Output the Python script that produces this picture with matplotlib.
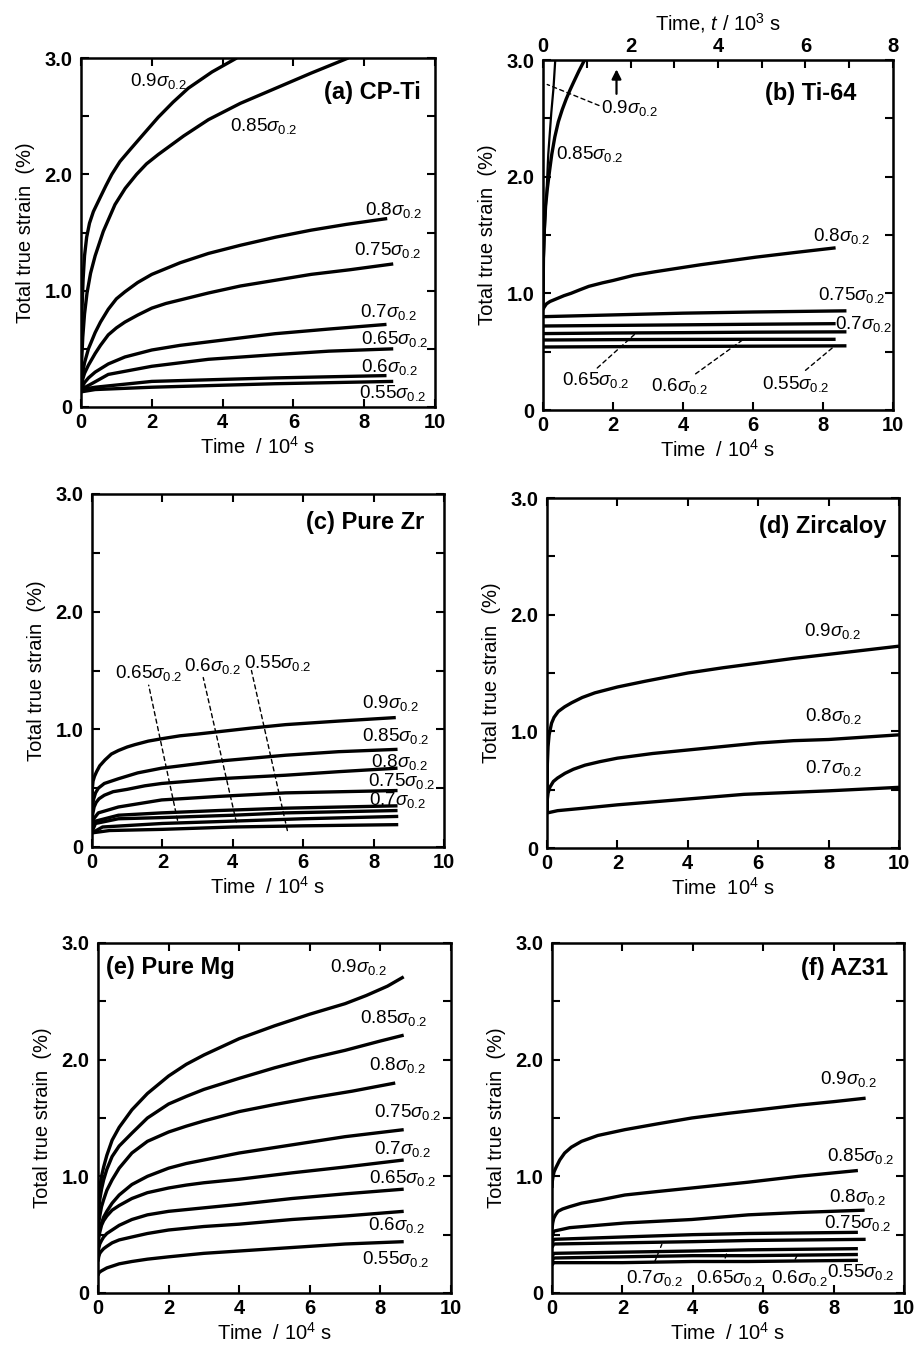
import matplotlib
matplotlib.use('Agg')
import matplotlib.pyplot as plt

plt.rcParams['font.family'] = ['Liberation Sans', 'DejaVu Sans']
plt.rcParams['mathtext.fontset'] = 'custom'
plt.rcParams['mathtext.rm'] = 'Liberation Sans'
plt.rcParams['mathtext.it'] = 'Liberation Sans:italic'
plt.rcParams['mathtext.bf'] = 'Liberation Sans:bold'

# ---- data: time (10^4 s), total true strain (%) ----
# (a) CP-Ti
a_levels = ['0.9', '0.85', '0.8', '0.75', '0.7', '0.65', '0.6', '0.55']
a_times = [
    [0, 0.01, 0.03, 0.06, 0.1, 0.16, 0.24, 0.35, 0.54, 0.7, 0.87, 1.1, 1.38, 1.75, 2.18, 2.6, 3.03, 3.7, 4.4],
    [0, 0.02, 0.05, 0.1, 0.17, 0.27, 0.4, 0.63, 0.96, 1.25, 1.57, 1.85, 2.18, 2.9, 3.6, 4.5, 5.5, 6.5, 7.55],
    [0, 0.02, 0.05, 0.1, 0.21, 0.4, 0.55, 0.77, 1.0, 1.24, 1.6, 2, 2.4, 2.8, 3.6, 4.5, 5.5, 6.5, 7.5, 8.65],
    [0, 0.02, 0.05, 0.1, 0.21, 0.4, 0.55, 0.77, 1.0, 1.24, 1.6, 2, 2.4, 2.8, 3.6, 4.5, 5.5, 6.5, 7.6, 8.82],
    [0, 0.05, 0.1, 0.21, 0.4, 0.77, 1.24, 2, 2.8, 3.6, 5.48, 7, 8.63],
    [0, 0.3, 0.77, 2, 3.6, 5.48, 7, 8.82],
    [0, 0.4, 2, 5.48, 8.63],
    [0, 0.4, 2, 5.48, 8.82],
]
a_strains = [
    [0.16, 0.5, 0.85, 1.1, 1.3, 1.46, 1.58, 1.68, 1.8, 1.9, 2.0, 2.11, 2.21, 2.34, 2.49, 2.62, 2.74, 2.88, 3.0],
    [0.15, 0.4, 0.6, 0.8, 0.98, 1.15, 1.3, 1.51, 1.74, 1.88, 2.0, 2.09, 2.17, 2.33, 2.47, 2.61, 2.74, 2.87, 3.0],
    [0.15, 0.22, 0.3, 0.38, 0.5, 0.64, 0.73, 0.84, 0.93, 0.99, 1.07, 1.14, 1.19, 1.24, 1.32, 1.39, 1.46, 1.52, 1.57, 1.62],
    [0.15, 0.19, 0.24, 0.29, 0.36, 0.46, 0.53, 0.62, 0.68, 0.73, 0.79, 0.85, 0.89, 0.92, 0.98, 1.04, 1.09, 1.14, 1.18, 1.23],
    [0.15, 0.18, 0.21, 0.25, 0.3, 0.37, 0.43, 0.49, 0.53, 0.56, 0.63, 0.67, 0.71],
    [0.15, 0.2, 0.28, 0.35, 0.41, 0.45, 0.48, 0.5],
    [0.15, 0.17, 0.22, 0.25, 0.27],
    [0.13, 0.15, 0.17, 0.2, 0.22],
]

# (b) Ti-64 ; first two curves use the top axis (10^3 s)
b_levels = ['0.9', '0.85', '0.8', '0.75', '0.7', '0.65', '0.6', '0.55']
b_times = [
    [0, 0.02, 0.05, 0.12, 0.19, 0.24, 0.28],
    [0, 0.01, 0.03, 0.06, 0.1, 0.15, 0.2, 0.27, 0.35, 0.44, 0.53, 0.62, 0.7, 0.82, 0.95],
    [0, 0.03, 0.1, 0.2, 0.36, 0.6, 0.8, 1.05, 1.31, 1.7, 2, 2.6, 3.2, 4.5, 6.08, 7.2, 8.36],
    [0, 2, 4, 6, 8.67],
    [0, 2, 4, 6, 8.36],
    [0, 2, 4, 6, 8.67],
    [0, 2, 4, 6, 8.36],
    [0, 2, 4, 6, 8.67],
]
b_strains = [
    [0.9, 1.3, 1.61, 2.19, 2.55, 2.76, 3.0],
    [0.9, 1.3, 1.55, 1.75, 1.9, 2.05, 2.19, 2.34, 2.47, 2.575, 2.665, 2.745, 2.81, 2.905, 3.0],
    [0.86, 0.88, 0.91, 0.93, 0.95, 0.98, 1.0, 1.03, 1.06, 1.09, 1.11, 1.155, 1.185, 1.245, 1.31, 1.35, 1.39],
    [0.8, 0.815, 0.83, 0.84, 0.85],
    [0.72, 0.725, 0.73, 0.735, 0.74],
    [0.655, 0.66, 0.663, 0.667, 0.67],
    [0.6, 0.603, 0.605, 0.606, 0.606],
    [0.54, 0.543, 0.545, 0.547, 0.55],
]

# (c) Pure Zr
c_levels = ['0.9', '0.85', '0.8', '0.75', '0.7', '0.65', '0.6', '0.55']
c_times = [
    [0, 0.01, 0.03, 0.07, 0.13, 0.22, 0.37, 0.55, 0.75, 1.0, 1.22, 1.6, 1.98, 2.5, 3, 3.6, 4.5, 5.5, 7, 8.63],
    [0, 0.01, 0.04, 0.1, 0.18, 0.35, 0.75, 1.3, 1.98, 3.6, 5.5, 7, 8.68],
    [0, 0.02, 0.06, 0.12, 0.2, 0.35, 0.6, 1.0, 1.5, 1.98, 3.6, 5.5, 7, 8.68],
    [0, 0.05, 0.18, 0.75, 1.98, 3.6, 5.5, 8.68],
    [0, 0.1, 0.75, 1.98, 3.6, 5.5, 8.68],
    [0, 0.1, 0.75, 2, 4, 5.5, 8.68],
    [0, 0.3, 2, 4, 6, 8.7],
    [0, 0.5, 2, 4, 6, 8.7],
]
c_strains = [
    [0.35, 0.5, 0.56, 0.6, 0.64, 0.69, 0.74, 0.79, 0.82, 0.85, 0.87, 0.9, 0.92, 0.945, 0.96, 0.98, 1.01, 1.04, 1.07, 1.1],
    [0.25, 0.33, 0.4, 0.46, 0.5, 0.54, 0.58, 0.63, 0.67, 0.73, 0.78, 0.81, 0.83],
    [0.2, 0.28, 0.34, 0.38, 0.41, 0.44, 0.47, 0.49, 0.52, 0.54, 0.58, 0.61, 0.64, 0.67],
    [0.15, 0.24, 0.29, 0.34, 0.4, 0.43, 0.46, 0.48],
    [0.15, 0.22, 0.27, 0.29, 0.31, 0.33, 0.35],
    [0.13, 0.2, 0.24, 0.25, 0.27, 0.29, 0.31],
    [0.12, 0.17, 0.2, 0.22, 0.24, 0.26],
    [0.12, 0.14, 0.15, 0.17, 0.18, 0.19],
]

# (d) Zircaloy
d_levels = ['0.9', '0.8', '0.7']
d_times = [
    [0, 0.01, 0.03, 0.06, 0.13, 0.2, 0.32, 0.5, 0.7, 1.0, 1.36, 2, 2.8, 4, 5, 6, 7, 8, 9, 10],
    [0, 0.01, 0.03, 0.08, 0.18, 0.3, 0.51, 0.75, 1.08, 1.5, 2, 3, 4, 5, 6, 7, 8, 9, 10],
    [0, 0.3, 1, 2, 4, 5.6, 8, 10],
]
d_strains = [
    [0.3, 0.72, 0.87, 0.97, 1.07, 1.12, 1.17, 1.21, 1.245, 1.29, 1.33, 1.38, 1.43, 1.5, 1.545, 1.585, 1.625, 1.66, 1.695, 1.73],
    [0.3, 0.42, 0.47, 0.52, 0.57, 0.6, 0.64, 0.675, 0.71, 0.74, 0.77, 0.81, 0.84, 0.87, 0.9, 0.92, 0.93, 0.95, 0.97],
    [0.3, 0.32, 0.34, 0.37, 0.42, 0.46, 0.49, 0.52],
]

# (e) Pure Mg
e_levels = ['0.9', '0.85', '0.8', '0.75', '0.7', '0.65', '0.6', '0.55']
e_times = [
    [0, 0.02, 0.05, 0.1, 0.16, 0.25, 0.4, 0.6, 0.96, 1.4, 2, 2.5, 3, 4, 5, 6, 7, 7.6, 8.2, 8.66],
    [0, 0.02, 0.05, 0.1, 0.16, 0.25, 0.4, 0.6, 0.96, 1.4, 2, 2.5, 3, 4, 5, 6, 7, 8, 8.66],
    [0, 0.02, 0.05, 0.1, 0.16, 0.25, 0.4, 0.6, 0.96, 1.4, 2, 2.5, 3, 4, 5, 6, 7.2, 8.42],
    [0, 0.02, 0.05, 0.1, 0.16, 0.25, 0.4, 0.6, 0.96, 1.4, 2, 2.5, 3, 4, 5.5, 7, 8.66],
    [0, 0.02, 0.05, 0.1, 0.16, 0.25, 0.4, 0.6, 0.96, 1.4, 2, 2.5, 3, 4, 5.5, 7, 8.66],
    [0, 0.02, 0.05, 0.1, 0.16, 0.25, 0.4, 0.6, 0.96, 1.4, 2, 2.5, 3, 4, 5.5, 7, 8.66],
    [0, 0.02, 0.05, 0.1, 0.16, 0.25, 0.4, 0.6, 0.96, 1.4, 2, 2.5, 3, 4, 5.5, 7, 8.66],
    [0, 0.02, 0.05, 0.1, 0.16, 0.25, 0.4, 0.6, 0.96, 1.4, 2, 2.5, 3, 4, 5.5, 7, 8.66],
]
e_strains = [
    [0.7, 0.82, 0.9, 1.0, 1.08, 1.18, 1.31, 1.42, 1.57, 1.71, 1.86, 1.96, 2.04, 2.18, 2.29, 2.39, 2.48, 2.55, 2.63, 2.71],
    [0.6, 0.72, 0.8, 0.89, 0.97, 1.06, 1.17, 1.26, 1.37, 1.5, 1.62, 1.685, 1.745, 1.84, 1.93, 2.01, 2.08, 2.16, 2.21],
    [0.5, 0.6, 0.66, 0.74, 0.8, 0.88, 0.97, 1.07, 1.2, 1.3, 1.38, 1.43, 1.475, 1.555, 1.615, 1.67, 1.73, 1.8],
    [0.45, 0.5, 0.55, 0.6, 0.65, 0.7, 0.77, 0.84, 0.93, 1.0, 1.07, 1.11, 1.14, 1.2, 1.27, 1.34, 1.4],
    [0.4, 0.47, 0.52, 0.58, 0.62, 0.66, 0.71, 0.75, 0.81, 0.86, 0.9, 0.925, 0.945, 0.975, 1.03, 1.08, 1.14],
    [0.33, 0.38, 0.42, 0.45, 0.48, 0.51, 0.54, 0.58, 0.63, 0.67, 0.7, 0.715, 0.73, 0.76, 0.81, 0.85, 0.89],
    [0.27, 0.31, 0.34, 0.36, 0.38, 0.4, 0.43, 0.455, 0.48, 0.51, 0.54, 0.555, 0.57, 0.59, 0.63, 0.66, 0.7],
    [0.15, 0.17, 0.18, 0.19, 0.2, 0.215, 0.23, 0.25, 0.27, 0.29, 0.31, 0.325, 0.34, 0.36, 0.39, 0.42, 0.44],
]

# (f) AZ31
f_levels = ['0.9', '0.85', '0.8', '0.75', '0.7', '0.65', '0.6', '0.55']
f_times = [
    [0, 0.01, 0.03, 0.06, 0.12, 0.22, 0.36, 0.55, 0.84, 1.3, 2.07, 3, 3.97, 5, 5.58, 7, 8, 8.91],
    [0, 0.02, 0.05, 0.1, 0.17, 0.3, 0.5, 0.84, 1.4, 2.07, 3, 3.97, 5.58, 7, 8.69],
    [0, 0.05, 0.5, 2.07, 3.97, 5.58, 7, 8.88],
    [0, 0.05, 2, 4, 5.58, 8.69],
    [0, 0.05, 2, 4, 5.58, 8.91],
    [0, 0.05, 2, 4, 5.58, 8.69],
    [0, 0.05, 2, 4, 5.58, 8.69],
    [0, 0.05, 2, 4, 5.58, 8.69],
]
f_strains = [
    [0.9, 0.96, 1.0, 1.04, 1.08, 1.14, 1.2, 1.25, 1.3, 1.35, 1.4, 1.45, 1.5, 1.54, 1.56, 1.61, 1.64, 1.67],
    [0.55, 0.6, 0.64, 0.67, 0.7, 0.72, 0.74, 0.77, 0.8, 0.84, 0.87, 0.9, 0.95, 1.0, 1.05],
    [0.48, 0.53, 0.56, 0.6, 0.63, 0.67, 0.69, 0.71],
    [0.43, 0.46, 0.48, 0.5, 0.51, 0.52],
    [0.39, 0.42, 0.43, 0.44, 0.45, 0.46],
    [0.31, 0.34, 0.35, 0.36, 0.37, 0.38],
    [0.27, 0.3, 0.31, 0.32, 0.32, 0.33],
    [0.24, 0.26, 0.26, 0.27, 0.27, 0.28],
]

# ---- layout (label anchor positions, in axis units) ----
a_lab = [(1.38, 2.76), (4.21, 2.37), (8.02, 1.65), (7.72, 1.31), (7.88, 0.77), (7.91, 0.54), (7.91, 0.30), (7.85, 0.08)]
b_lab = [(1.65, 2.55), (0.36, 2.15), (7.72, 1.45), (7.87, 0.94), (8.34, 0.69), (0.53, 0.21), (3.08, 0.16), (6.25, 0.18)]
c_lab = [(7.68, 1.18), (7.66, 0.90), (7.92, 0.68), (7.85, 0.52), (7.87, 0.36), (0.66, 1.44), (2.62, 1.50), (4.32, 1.52)]
d_lab = [(7.3, 1.82), (7.34, 1.09), (7.34, 0.64)]
e_lab = [(6.58, 2.75), (7.43, 2.31), (7.69, 1.91), (7.82, 1.51), (7.82, 1.19), (7.69, 0.94), (7.66, 0.54), (7.47, 0.25)]
f_lab = [(7.62, 1.79), (7.81, 1.13), (7.88, 0.78), (7.74, 0.56), (2.09, 0.09), (4.1, 0.09), (6.22, 0.09), (7.81, 0.14)]

W, H = 916, 1349
fig = plt.figure(figsize=(W / 100, H / 100), dpi=100)

LW = 2.4
LABEL_FS = 13.5
TICK_FS = 14.5
XLABEL = 'Time  / 10$^4$ s'


def make_axes(x0, y0, x1, y1):
    return fig.add_axes([x0 / W, 1 - y1 / H, (x1 - x0) / W, (y1 - y0) / H])


def style(ax, xlabel, top=True):
    ax.set_xlim(0, 10)
    ax.set_ylim(0, 3)
    ax.set_xticks(range(0, 11, 2))
    ax.set_yticks([0, 0.5, 1, 1.5, 2, 2.5, 3])
    ax.set_yticklabels(['0', '', '1.0', '', '2.0', '', '3.0'])
    ax.tick_params(direction='in', length=6, width=1.5, top=top, right=True,
                   labelsize=TICK_FS)
    ax.tick_params(axis='x', pad=4)
    ax.tick_params(axis='y', pad=6)
    for lab in ax.get_xticklabels() + ax.get_yticklabels():
        lab.set_fontweight('bold')
    for sp in ax.spines.values():
        sp.set_linewidth(1.8)
    ax.set_xlabel(xlabel, fontsize=14.5, labelpad=3)
    ax.set_ylabel('Total true strain  (%)', fontsize=14.5, labelpad=7)


def draw(ax, times, strains, lw=LW):
    for t, e in zip(times, strains):
        ax.plot(t, e, color='black', lw=lw, solid_capstyle='butt',
                solid_joinstyle='round')


def labels(ax, levels, pos):
    for lev, (x, y) in zip(levels, pos):
        ax.text(x, y, lev + r'$\sigma_{0.2}$', fontsize=LABEL_FS,
                ha='left', va='baseline')


def leader(ax, p0, p1):
    ax.annotate('', xy=p0, xytext=p1,
                arrowprops=dict(arrowstyle='-', linestyle=(0, (3, 2.5)),
                                lw=1.0, color='black', shrinkA=0, shrinkB=0))


def title(ax, s, x, y, ha='right'):
    ax.text(x, y, s, fontsize=17, fontweight='bold', ha=ha, va='center')


# (a)
ax = make_axes(81, 58, 435, 407)
style(ax, XLABEL)
draw(ax, a_times, a_strains)
labels(ax, a_levels, a_lab)
title(ax, '(a) CP-Ti', 9.59, 2.70)

# (b)
ax = make_axes(543, 60, 893, 410)
style(ax, XLABEL, top=False)
draw(ax, b_times[2:], b_strains[2:])
labels(ax, b_levels, b_lab)
title(ax, '(b) Ti-64', 8.96, 2.71)
leader(ax, (0.12, 2.79), (1.6, 2.61))
leader(ax, (2.65, 0.657), (1.55, 0.36))
leader(ax, (5.7, 0.6), (4.36, 0.31))
leader(ax, (8.31, 0.543), (7.5, 0.34))
ax.annotate('', xy=(2.1, 2.92), xytext=(2.1, 2.71),
            arrowprops=dict(arrowstyle='-|>', lw=1.6, color='black',
                            mutation_scale=14, shrinkA=0, shrinkB=0))
ax2 = ax.twiny()
ax2.set_xlim(0, 8)
ax2.set_xticks(range(0, 9))
ax2.set_xticklabels(['0', '', '2', '', '4', '', '6', '', '8'])
ax2.tick_params(direction='in', length=6, width=1.5, labelsize=TICK_FS, pad=3)
for lab in ax2.get_xticklabels():
    lab.set_fontweight('bold')
ax2.set_xlabel('Time, $t$ / 10$^3$ s', fontsize=14.5, labelpad=5)
ax2.plot(b_times[0], b_strains[0], color='black', lw=1.6)
ax2.plot(b_times[1], b_strains[1], color='black', lw=LW,
         solid_joinstyle='round')

# (c)
ax = make_axes(92, 494, 444, 847)
style(ax, XLABEL)
draw(ax, c_times, c_strains)
labels(ax, c_levels, c_lab)
title(ax, '(c) Pure Zr', 9.43, 2.76)
leader(ax, (1.61, 1.375), (2.43, 0.227))
leader(ax, (3.16, 1.44), (4.1, 0.213))
leader(ax, (4.53, 1.50), (5.55, 0.14))

# (d)
ax = make_axes(547, 498, 899, 848)
style(ax, 'Time  10$^4$ s')
draw(ax, d_times, d_strains)
labels(ax, d_levels, d_lab)
title(ax, '(d) Zircaloy', 9.64, 2.76)

# (e)
ax = make_axes(98, 943, 451, 1293)
style(ax, XLABEL)
draw(ax, e_times, e_strains)
labels(ax, e_levels, e_lab)
title(ax, '(e) Pure Mg', 0.22, 2.79, ha='left')

# (f)
ax = make_axes(552, 943, 904, 1293)
style(ax, XLABEL)
draw(ax, f_times, f_strains)
labels(ax, f_levels, f_lab)
title(ax, '(f) AZ31', 9.56, 2.78)
leader(ax, (3.12, 0.417), (2.92, 0.27))
leader(ax, (4.99, 0.366), (4.92, 0.30))
leader(ax, (6.98, 0.33), (6.91, 0.29))

fig.savefig('out.png', dpi=100)
